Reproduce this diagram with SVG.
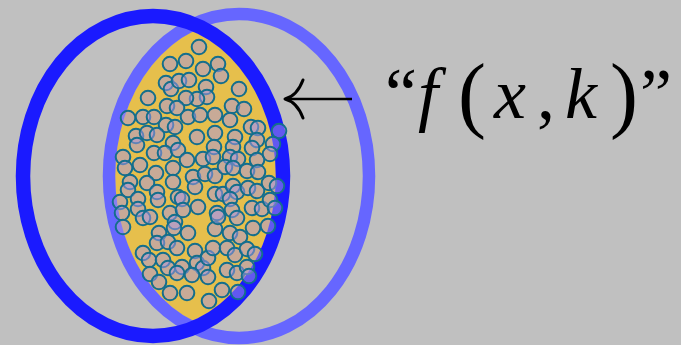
<svg xmlns="http://www.w3.org/2000/svg" width="681" height="345" viewBox="0 0 681 345">
<style>
.dot{fill:#aa96e1;fill-opacity:0.5;stroke:#146e8c;stroke-width:2}
.ring{fill:none}
.txt{font-family:'Liberation Serif','Times New Roman',serif;font-size:72px;fill:#000}
.it{font-style:italic}
.par{font-size:84px}
</style>
<defs>
<clipPath id="clipDark"><ellipse cx="153" cy="176" rx="123" ry="153"/></clipPath>
</defs>
<rect width="681" height="345" fill="#c0c0c0"/>
<g id="intersection">
<ellipse cx="239" cy="176" rx="124" ry="156" fill="#e6bf4c" clip-path="url(#clipDark)"/>
</g>
<g id="setB">
<ellipse class="ring" cx="239" cy="176" rx="130" ry="162" stroke="#6666ff" stroke-width="12.5"/>
</g>
<g id="setA">
<ellipse class="ring" cx="153" cy="176" rx="130" ry="160" stroke="#1a1aff" stroke-width="14.5"/>
</g>
<g id="points">
<circle class="dot" cx="199" cy="47" r="7.3"/>
<circle class="dot" cx="170" cy="64" r="7.3"/>
<circle class="dot" cx="186" cy="61" r="7.3"/>
<circle class="dot" cx="203" cy="69" r="7.3"/>
<circle class="dot" cx="218" cy="64" r="7.3"/>
<circle class="dot" cx="221" cy="76" r="7.3"/>
<circle class="dot" cx="166" cy="83" r="7.3"/>
<circle class="dot" cx="171" cy="89" r="7.3"/>
<circle class="dot" cx="179" cy="81" r="7.3"/>
<circle class="dot" cx="189" cy="80" r="7.3"/>
<circle class="dot" cx="206" cy="87" r="7.3"/>
<circle class="dot" cx="207" cy="97" r="7.3"/>
<circle class="dot" cx="197" cy="99" r="7.3"/>
<circle class="dot" cx="186" cy="98" r="7.3"/>
<circle class="dot" cx="239" cy="89" r="7.3"/>
<circle class="dot" cx="148" cy="98" r="7.3"/>
<circle class="dot" cx="167" cy="106" r="7.3"/>
<circle class="dot" cx="177" cy="108" r="7.3"/>
<circle class="dot" cx="232" cy="106" r="7.3"/>
<circle class="dot" cx="244" cy="109" r="7.3"/>
<circle class="dot" cx="128" cy="118" r="7.3"/>
<circle class="dot" cx="143" cy="117" r="7.3"/>
<circle class="dot" cx="154" cy="117" r="7.3"/>
<circle class="dot" cx="188" cy="117" r="7.3"/>
<circle class="dot" cx="200" cy="115" r="7.3"/>
<circle class="dot" cx="215" cy="115" r="7.3"/>
<circle class="dot" cx="230" cy="120" r="7.3"/>
<circle class="dot" cx="166" cy="125" r="7.3"/>
<circle class="dot" cx="175" cy="127" r="7.3"/>
<circle class="dot" cx="251" cy="127" r="7.3"/>
<circle class="dot" cx="258" cy="128" r="7.3"/>
<circle class="dot" cx="279" cy="131" r="7.3"/>
<circle class="dot" cx="136" cy="136" r="7.3"/>
<circle class="dot" cx="147" cy="133" r="7.3"/>
<circle class="dot" cx="157" cy="135" r="7.3"/>
<circle class="dot" cx="197" cy="137" r="7.3"/>
<circle class="dot" cx="215" cy="133" r="7.3"/>
<circle class="dot" cx="235" cy="137" r="7.3"/>
<circle class="dot" cx="257" cy="140" r="7.3"/>
<circle class="dot" cx="273" cy="144" r="7.3"/>
<circle class="dot" cx="137" cy="145" r="7.3"/>
<circle class="dot" cx="173" cy="143" r="7.3"/>
<circle class="dot" cx="214" cy="147" r="7.3"/>
<circle class="dot" cx="233" cy="147" r="7.3"/>
<circle class="dot" cx="252" cy="148" r="7.3"/>
<circle class="dot" cx="123" cy="157" r="7.3"/>
<circle class="dot" cx="154" cy="153" r="7.3"/>
<circle class="dot" cx="165" cy="153" r="7.3"/>
<circle class="dot" cx="178" cy="150" r="7.3"/>
<circle class="dot" cx="187" cy="160" r="7.3"/>
<circle class="dot" cx="203" cy="159" r="7.3"/>
<circle class="dot" cx="213" cy="157" r="7.3"/>
<circle class="dot" cx="230" cy="157" r="7.3"/>
<circle class="dot" cx="238" cy="159" r="7.3"/>
<circle class="dot" cx="257" cy="160" r="7.3"/>
<circle class="dot" cx="270" cy="154" r="7.3"/>
<circle class="dot" cx="125" cy="168" r="7.3"/>
<circle class="dot" cx="140" cy="165" r="7.3"/>
<circle class="dot" cx="156" cy="173" r="7.3"/>
<circle class="dot" cx="173" cy="168" r="7.3"/>
<circle class="dot" cx="193" cy="177" r="7.3"/>
<circle class="dot" cx="205" cy="174" r="7.3"/>
<circle class="dot" cx="215" cy="176" r="7.3"/>
<circle class="dot" cx="225" cy="167" r="7.3"/>
<circle class="dot" cx="233" cy="168" r="7.3"/>
<circle class="dot" cx="247" cy="171" r="7.3"/>
<circle class="dot" cx="258" cy="172" r="7.3"/>
<circle class="dot" cx="130" cy="182" r="7.3"/>
<circle class="dot" cx="147" cy="183" r="7.3"/>
<circle class="dot" cx="157" cy="192" r="7.3"/>
<circle class="dot" cx="173" cy="182" r="7.3"/>
<circle class="dot" cx="195" cy="187" r="7.3"/>
<circle class="dot" cx="215" cy="194" r="7.3"/>
<circle class="dot" cx="223" cy="194" r="7.3"/>
<circle class="dot" cx="233" cy="186" r="7.3"/>
<circle class="dot" cx="237" cy="192" r="7.3"/>
<circle class="dot" cx="248" cy="188" r="7.3"/>
<circle class="dot" cx="257" cy="191" r="7.3"/>
<circle class="dot" cx="269" cy="183" r="7.3"/>
<circle class="dot" cx="277" cy="186" r="7.3"/>
<circle class="dot" cx="128" cy="190" r="7.3"/>
<circle class="dot" cx="120" cy="202" r="7.3"/>
<circle class="dot" cx="138" cy="199" r="7.3"/>
<circle class="dot" cx="158" cy="200" r="7.3"/>
<circle class="dot" cx="178" cy="197" r="7.3"/>
<circle class="dot" cx="182" cy="199" r="7.3"/>
<circle class="dot" cx="198" cy="207" r="7.3"/>
<circle class="dot" cx="230" cy="199" r="7.3"/>
<circle class="dot" cx="122" cy="213" r="7.3"/>
<circle class="dot" cx="138" cy="209" r="7.3"/>
<circle class="dot" cx="143" cy="218" r="7.3"/>
<circle class="dot" cx="150" cy="217" r="7.3"/>
<circle class="dot" cx="170" cy="213" r="7.3"/>
<circle class="dot" cx="183" cy="210" r="7.3"/>
<circle class="dot" cx="217" cy="213" r="7.3"/>
<circle class="dot" cx="232" cy="210" r="7.3"/>
<circle class="dot" cx="237" cy="218" r="7.3"/>
<circle class="dot" cx="252" cy="208" r="7.3"/>
<circle class="dot" cx="262" cy="209" r="7.3"/>
<circle class="dot" cx="270" cy="200" r="7.3"/>
<circle class="dot" cx="275" cy="208" r="7.3"/>
<circle class="dot" cx="123" cy="227" r="7.3"/>
<circle class="dot" cx="175" cy="222" r="7.3"/>
<circle class="dot" cx="174" cy="228" r="7.3"/>
<circle class="dot" cx="215" cy="229" r="7.3"/>
<circle class="dot" cx="218" cy="217" r="7.3"/>
<circle class="dot" cx="230" cy="233" r="7.3"/>
<circle class="dot" cx="240" cy="237" r="7.3"/>
<circle class="dot" cx="253" cy="228" r="7.3"/>
<circle class="dot" cx="268" cy="226" r="7.3"/>
<circle class="dot" cx="159" cy="233" r="7.3"/>
<circle class="dot" cx="157" cy="243" r="7.3"/>
<circle class="dot" cx="168" cy="242" r="7.3"/>
<circle class="dot" cx="177" cy="248" r="7.3"/>
<circle class="dot" cx="188" cy="233" r="7.3"/>
<circle class="dot" cx="143" cy="253" r="7.3"/>
<circle class="dot" cx="149" cy="260" r="7.3"/>
<circle class="dot" cx="163" cy="260" r="7.3"/>
<circle class="dot" cx="168" cy="268" r="7.3"/>
<circle class="dot" cx="182" cy="267" r="7.3"/>
<circle class="dot" cx="195" cy="251" r="7.3"/>
<circle class="dot" cx="197" cy="263" r="7.3"/>
<circle class="dot" cx="203" cy="268" r="7.3"/>
<circle class="dot" cx="208" cy="258" r="7.3"/>
<circle class="dot" cx="213" cy="248" r="7.3"/>
<circle class="dot" cx="227" cy="248" r="7.3"/>
<circle class="dot" cx="235" cy="255" r="7.3"/>
<circle class="dot" cx="247" cy="249" r="7.3"/>
<circle class="dot" cx="255" cy="254" r="7.3"/>
<circle class="dot" cx="227" cy="270" r="7.3"/>
<circle class="dot" cx="237" cy="273" r="7.3"/>
<circle class="dot" cx="247" cy="267" r="7.3"/>
<circle class="dot" cx="249" cy="276" r="7.3"/>
<circle class="dot" cx="150" cy="274" r="7.3"/>
<circle class="dot" cx="159" cy="282" r="7.3"/>
<circle class="dot" cx="177" cy="273" r="7.3"/>
<circle class="dot" cx="192" cy="275" r="7.3"/>
<circle class="dot" cx="208" cy="277" r="7.3"/>
<circle class="dot" cx="170" cy="293" r="7.3"/>
<circle class="dot" cx="187" cy="293" r="7.3"/>
<circle class="dot" cx="209" cy="301" r="7.3"/>
<circle class="dot" cx="222" cy="290" r="7.3"/>
<circle class="dot" cx="238" cy="292" r="7.3"/>
</g>
<g id="connectors">
<path d="M352,99 H287" fill="none" stroke="#000" stroke-width="2.6"/>
<path d="M303,80 Q297,96 285,99 Q297,102 303,118" fill="none" stroke="#000" stroke-width="3" stroke-linecap="round" stroke-linejoin="round"/>
</g>
<g id="label">
<text class="txt" y="118"><tspan x="385">“</tspan><tspan class="it" x="418">f</tspan><tspan class="par" x="458" y="122">(</tspan><tspan class="it" x="494" y="118">x</tspan><tspan x="537">,</tspan><tspan class="it" x="565">k</tspan><tspan class="par" x="610" y="122">)</tspan><tspan x="640" y="118">”</tspan></text>
</g>
</svg>
